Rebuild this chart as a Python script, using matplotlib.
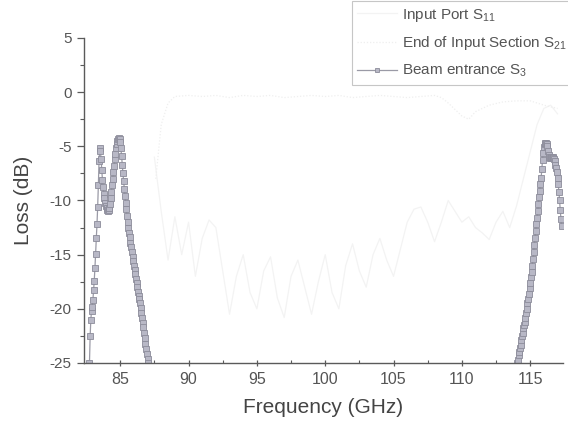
import numpy as np
import matplotlib
matplotlib.use("Agg")
import matplotlib.pyplot as plt

# Beam entrance S31 -- low-frequency lobe (GHz, dB)
s3_left_freq = [
    82.75, 82.80, 82.85, 82.90, 82.95, 83.00, 83.05, 83.10, 83.15, 83.20,
    83.25, 83.30, 83.35, 83.40, 83.45, 83.50, 83.55, 83.60, 83.65, 83.70,
    83.75, 83.80, 83.85, 83.90, 83.95, 84.00, 84.05, 84.10, 84.15, 84.20,
    84.25, 84.30, 84.35, 84.40, 84.45, 84.50, 84.55, 84.60, 84.65, 84.70,
    84.75, 84.80, 84.85, 84.90, 84.95, 85.00, 85.05, 85.10, 85.15, 85.20,
    85.25, 85.30, 85.35, 85.40, 85.45, 85.50, 85.55, 85.60, 85.65, 85.70,
    85.75, 85.80, 85.85, 85.90, 85.95, 86.00, 86.05, 86.10, 86.15, 86.20,
    86.25, 86.30, 86.35, 86.40, 86.45, 86.50, 86.55, 86.60, 86.65, 86.70,
    86.75, 86.80, 86.85, 86.90, 86.95, 87.00, 87.05,
]
s3_left_loss = [
    -25.0, -22.5, -21.0, -20.2, -19.8, -19.2, -18.3, -17.4, -16.2, -14.9,
    -13.5, -12.2, -10.6, -8.6, -6.4, -5.2, -5.4, -6.2, -7.2, -8.1,
    -8.8, -9.4, -9.8, -10.2, -10.5, -10.7, -10.9, -11.0, -10.9, -10.7,
    -10.3, -9.8, -9.2, -8.6, -8.0, -7.4, -6.8, -6.2, -5.7, -5.2,
    -4.8, -4.5, -4.3, -4.2, -4.3, -4.6, -5.2, -5.9, -6.7, -7.5,
    -8.2, -8.9, -9.6, -10.2, -10.8, -11.4, -12.0, -12.5, -13.0, -13.4,
    -13.9, -14.3, -14.8, -15.2, -15.6, -16.0, -16.4, -16.8, -17.2, -17.6,
    -18.0, -18.4, -18.8, -19.1, -19.5, -19.9, -20.4, -20.8, -21.3, -21.7,
    -22.2, -22.7, -23.2, -23.7, -24.2, -24.6, -25.0,
]

# Beam entrance S31 -- high-frequency lobe
s3_right_freq = [
    114.05, 114.10, 114.15, 114.20, 114.25, 114.30, 114.35, 114.40, 114.45, 114.50,
    114.55, 114.60, 114.65, 114.70, 114.75, 114.80, 114.85, 114.90, 114.95, 115.00,
    115.05, 115.10, 115.15, 115.20, 115.25, 115.30, 115.35, 115.40, 115.45, 115.50,
    115.55, 115.60, 115.65, 115.70, 115.75, 115.80, 115.85, 115.90, 115.95, 116.00,
    116.05, 116.10, 116.15, 116.20, 116.25, 116.30, 116.35, 116.40, 116.45, 116.50,
    116.55, 116.60, 116.65, 116.70, 116.75, 116.80, 116.85, 116.90, 116.95, 117.00,
    117.05, 117.10, 117.15, 117.20, 117.25, 117.30,
]
s3_right_loss = [
    -25.0, -24.7, -24.3, -24.0, -23.6, -23.3, -22.9, -22.5, -22.2, -21.8,
    -21.5, -21.2, -20.8, -20.4, -20.0, -19.5, -19.1, -18.6, -18.1, -17.6,
    -17.1, -16.6, -16.0, -15.4, -14.8, -14.1, -13.5, -12.8, -12.2, -11.6,
    -11.0, -10.3, -9.7, -9.1, -8.5, -7.9, -7.1, -6.3, -5.6, -5.1,
    -4.8, -4.7, -4.7, -4.8, -5.0, -5.4, -5.8, -6.0, -6.1, -6.1,
    -6.0, -6.0, -6.0, -6.1, -6.2, -6.4, -6.7, -7.0, -7.4, -7.9,
    -8.5, -9.2, -10.0, -10.9, -11.7, -12.4,
]

# Input Port S11 (very faint in the scan)
s11_freq = [
    87.5, 88.0, 88.5, 89.0, 89.5, 90.0, 90.5, 91.0, 91.5, 92.0,
    92.5, 93.0, 93.5, 94.0, 94.5, 95.0, 95.5, 96.0, 96.5, 97.0,
    97.5, 98.0, 98.5, 99.0, 99.5, 100.0, 100.5, 101.0, 101.5, 102.0,
    102.5, 103.0, 103.5, 104.0, 104.5, 105.0, 105.5, 106.0, 106.5, 107.0,
    107.5, 108.0, 108.5, 109.0, 109.5, 110.0, 110.5, 111.0, 111.5, 112.0,
    112.5, 113.0, 113.5, 114.0, 114.5, 115.0, 115.5, 116.0, 116.5, 117.0,
]
s11_loss = [
    -6.0, -11.0, -15.5, -11.5, -15.0, -12.0, -17.0, -13.5, -11.8, -12.5,
    -16.5, -20.5, -17.0, -15.0, -18.5, -20.0, -16.5, -15.2, -19.0, -20.8,
    -17.0, -15.5, -18.0, -20.5, -17.5, -15.0, -18.5, -20.0, -16.0, -14.0,
    -16.5, -18.0, -15.0, -13.5, -15.5, -17.0, -14.5, -12.0, -10.8, -10.6,
    -12.0, -13.8, -12.0, -10.0, -11.0, -12.0, -11.5, -12.5, -13.0, -13.6,
    -12.0, -11.0, -12.5, -10.5, -8.0, -5.5, -3.0, -1.5, -1.2, -2.0,
]

# End of Input Section S21 (very faint in the scan)
s21_freq = [
    87.6, 88.0, 88.5, 89.0, 90.0, 91.0, 92.0, 93.0, 94.0, 95.0,
    96.0, 97.0, 98.0, 99.0, 100.0, 101.0, 102.0, 103.0, 104.0, 105.0,
    106.0, 107.0, 108.0, 108.5, 109.0, 109.5, 110.0, 110.5, 111.0, 112.0,
    113.0, 114.0, 115.0, 116.0, 117.0,
]
s21_loss = [
    -8.0, -3.0, -1.0, -0.4, -0.3, -0.4, -0.3, -0.5, -0.3, -0.4,
    -0.3, -0.5, -0.4, -0.3, -0.4, -0.3, -0.5, -0.4, -0.3, -0.4,
    -0.5, -0.4, -0.3, -0.5, -1.0, -1.6, -2.2, -2.5, -1.8, -1.2,
    -0.9, -0.8, -0.8, -1.2, -1.5,
]

labels = ["Input Port S$_{11}$", "End of Input Section S$_{21}$",
          "Beam entrance S$_{3}$"]

plt.rcParams["font.family"] = ["Liberation Sans", "DejaVu Sans"]
plt.rcParams["mathtext.default"] = "regular"

TXT = "#555555"
AX = "#5a5a5a"

fig = plt.figure(figsize=(5.68, 4.26), dpi=100)
ax = fig.add_axes([84 / 568, 1 - 363 / 426, 479 / 568, 325 / 426])

# the two reference traces are nearly washed out in the scan
ax.plot(s11_freq, s11_loss, color="#f3f3f3", lw=0.9, label=labels[0])
ax.plot(s21_freq, s21_loss, color="#efefef", lw=0.9, ls=(0, (1, 1.5)),
        label=labels[1])

s3_style = dict(color="#9a9aa6", lw=0.9, marker="s", ms=4.2,
                mfc="#b8b8c6", mec="#8c8c9a", mew=0.6)
ax.plot(s3_left_freq, s3_left_loss, label=labels[2], **s3_style)
ax.plot(s3_right_freq, s3_right_loss, **s3_style)

ax.set_xlim(82.35, 117.4)
ax.set_ylim(-25, 5)
ax.set_xticks([85, 90, 95, 100, 105, 110, 115])
ax.set_xticks(np.arange(87.5, 117, 5), minor=True)
ax.set_yticks([5, 0, -5, -10, -15, -20, -25])
ax.set_yticks(np.arange(2.5, -25, -5), minor=True)
ax.set_yticklabels(["5", "0", "-5", "-10", "-15", "-20", "-25"])

for side in ("top", "right"):
    ax.spines[side].set_visible(False)
for side in ("left", "bottom"):
    ax.spines[side].set_color(AX)
    ax.spines[side].set_linewidth(1.0)

ax.tick_params(axis="y", which="major", direction="out", length=5,
               width=0.9, color=AX, labelcolor=TXT, labelsize=11, pad=4)
ax.tick_params(axis="y", which="minor", direction="out", length=3,
               width=0.8, color=AX)
ax.tick_params(axis="x", which="major", direction="inout", length=5,
               width=0.9, color=AX, labelcolor=TXT, labelsize=11.5, pad=4)
ax.tick_params(axis="x", which="minor", direction="in", length=2.5,
               width=0.8, color=AX)

ax.set_xlabel("Frequency (GHz)", fontsize=15, color="#444444", labelpad=8)
ax.set_ylabel("Loss (dB)", fontsize=15, color="#444444", labelpad=12)

leg = fig.legend(loc="upper left", bbox_to_anchor=(352 / 568, 0.997),
                 fontsize=11, frameon=True, fancybox=False,
                 edgecolor="#b8b8b8", handlelength=2.6, handletextpad=0.3,
                 borderaxespad=0, borderpad=0.35, labelspacing=0.7,
                 markerscale=0.7)
leg.get_frame().set_linewidth(0.8)
for t in leg.get_texts():
    t.set_color(TXT)

fig.savefig("out.png", dpi=100)
